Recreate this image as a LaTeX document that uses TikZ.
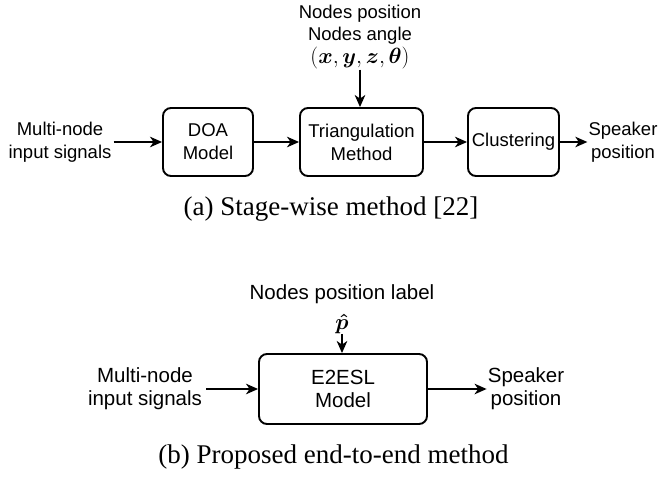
\documentclass[tikz,border=0pt]{standalone}
\usepackage{fix-cm}
\usepackage[no-math]{fontspec}
\setmainfont{Liberation Serif}
\setsansfont{Liberation Sans}
\usepackage{amsmath, amssymb, bm}
\usetikzlibrary{arrows.meta}
\tikzset{
block/.style={ % Rounded processing boxes
draw,
rounded corners=8pt,
line width=1.9pt,
inner sep=2pt,
align=center,
minimum height=68pt},
txt/.style={ % Plain sans labels, top figure
align=center,
inner sep=2pt,
font=\sffamily\fontsize{18.5}{23}\selectfont},
txtb/.style={ % Plain sans labels, bottom figure
align=center,
inner sep=2pt,
font=\sffamily\fontsize{20.5}{23}\selectfont},
mth/.style={ % Math labels
inner sep=1pt,
font=\fontsize{22}{26}\selectfont},
subcap/.style={ % Sub-figure captions
inner sep=0pt,
font=\rmfamily\fontsize{27}{32}\selectfont},
arr/.style={ % Filled arrows
-{Stealth[length=12pt,width=10.5pt,inset=3.5pt]},
line width=1.8pt}}

\begin{document}
\begin{tikzpicture}[x=1pt, y=-1pt]
\useasboundingbox (0,0) rectangle (662,479);
% (a) stage-wise
\node[txt] (in1) at (60,142) {Multi-node\\input signals};
\node[block, txt, minimum width=90pt] (doa) at (208,142) {DOA\\Model};
\node[block, txt, minimum width=123pt] (tri) at (361.5,142) {Triangulation\\Method};
\node[block, txt, minimum width=91pt] (clu) at (513.5,142) {Clustering};
\node[txt, inner sep=1pt] (out1) at (623,142) {Speaker\\position};
\node[txt, anchor=base] (pos1) at (360,18) {Nodes position};
\node[txt, anchor=base] (ang1) at (360,40) {Nodes angle};
\node[mth, anchor=base] (xyz) at (360,63) {$(\bm{x},\bm{y},\bm{z},\bm{\theta})$};
\draw[arr] (in1) -- (doa);
\draw[arr] (doa) -- (tri);
\draw[arr] (tri) -- (clu);
\draw[arr] (clu) -- (out1);
\draw[arr] (xyz) -- (xyz |- tri.north);
\node[subcap, anchor=base] (capa) at (331,215) {(a) Stage-wise method [22]};
% (b) end-to-end
\node[txtb, inner sep=4pt] (in2) at (145,389) {Multi-node\\input signals};
\node[block, txtb, minimum width=168pt, minimum height=70pt] (e2e) at (343,389) {E2ESL\\Model};
\node[txtb, inner sep=1pt] (out2) at (526,389) {Speaker\\position};
\node[txtb, inner sep=0pt, anchor=base] (lab2) at (342,299) {Nodes position label};
\node[mth, inner sep=0pt, anchor=base] (phat) at (342,329.5) {$\bm{\hat{p}}$};
\draw[arr] (in2) -- (e2e);
\draw[arr] (e2e) -- (out2);
\draw[arr] (phat) -- (phat |- e2e.north);
\node[subcap, anchor=base] (capb) at (333.5,463) {(b) Proposed end-to-end method};
\end{tikzpicture}
\end{document}
